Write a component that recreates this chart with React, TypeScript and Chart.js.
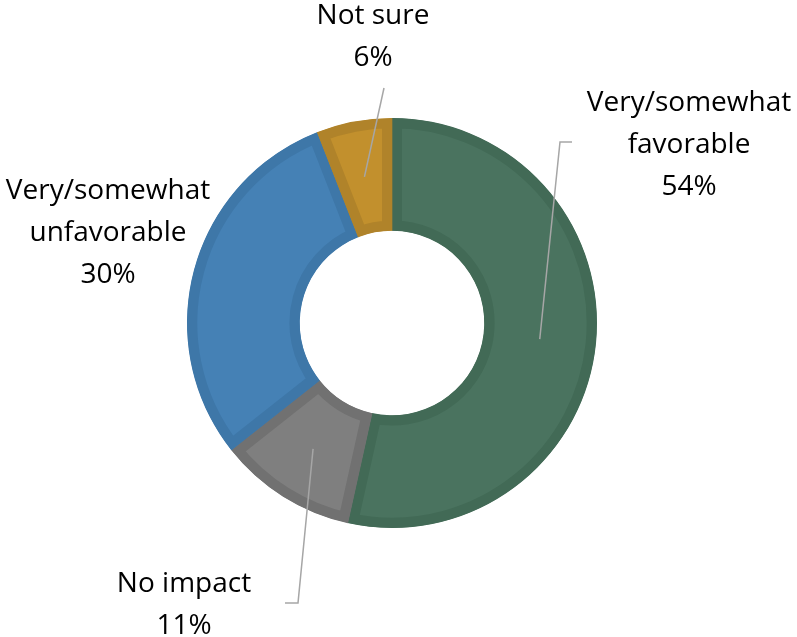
import React, { useEffect, useRef } from "react";
import { Chart, registerables } from "chart.js";

Chart.register(...registerables);

const categories = ["Very/somewhat favorable", "No impact", "Very/somewhat unfavorable", "Not sure"];
const values = [54, 11, 30, 6];
const labelLines = [
  ["Very/somewhat", "favorable", "54%"],
  ["No impact", "11%"],
  ["Very/somewhat", "unfavorable", "30%"],
  ["Not sure", "6%"],
];
const fillColors = ["#4a735f", "#7f7f7f", "#4581b5", "#c2902d"];
const borderColors = ["#426a56", "#717171", "#3e77a8", "#b0832a"];

// label placement relative to chart centre (text centre x, first line centre y), elbow points
const labelPlacement = [
  { tx: 297, ty: -220, elbow: [168, -181], end: [180, -181] },
  { tx: -208, ty: 261, elbow: [-94, 280], end: [-107, 280] },
  { tx: -284, ty: -132, elbow: null, end: null },
  { tx: -19, ty: -307, elbow: null, end: [-8, -235] },
];

const labelPlugin = {
  id: "doughnutLabels",
  afterDatasetsDraw(chart: any) {
    const ctx = chart.ctx;
    const meta = chart.getDatasetMeta(0);
    ctx.save();
    meta.data.forEach((arc: any, i: number) => {
      const p = arc.getProps(["x", "y", "startAngle", "endAngle", "innerRadius", "outerRadius"], true);
      const mid = (p.startAngle + p.endAngle) / 2;
      const r = (p.innerRadius + p.outerRadius) / 2;
      const sx = p.x + Math.cos(mid) * r;
      const sy = p.y + Math.sin(mid) * r;
      const pl = labelPlacement[i];
      if (pl.end) {
        ctx.beginPath();
        ctx.strokeStyle = "#a6a6a6";
        ctx.lineWidth = 1.5;
        ctx.moveTo(sx, sy);
        if (pl.elbow) ctx.lineTo(p.x + pl.elbow[0], p.y + pl.elbow[1]);
        ctx.lineTo(p.x + pl.end[0], p.y + pl.end[1]);
        ctx.stroke();
      }
      ctx.fillStyle = "#000000";
      ctx.font = "28px 'Open Sans'";
      ctx.textAlign = "center";
      ctx.textBaseline = "middle";
      labelLines[i].forEach((t, j) => {
        ctx.fillText(t, p.x + pl.tx, p.y + pl.ty + j * 42);
      });
    });
    ctx.restore();
  },
};

export default function App() {
  const ref = useRef<HTMLCanvasElement>(null);
  useEffect(() => {
    const chart = new Chart(ref.current!, {
      type: "doughnut",
      data: {
        labels: categories,
        datasets: [
          {
            data: values,
            backgroundColor: fillColors,
            borderColor: borderColors,
            borderWidth: 10,
            borderAlign: "inner",
            hoverOffset: 0,
          } as any,
        ],
      },
      options: {
        responsive: false,
        animation: false,
        cutout: "45%",
        layout: { padding: { top: 118, bottom: 109, left: 187, right: 200 } },
        plugins: { legend: { display: false }, tooltip: { enabled: false } },
      },
      plugins: [labelPlugin],
    });
    return () => chart.destroy();
  }, []);
  return (
    <div style={{ position: "absolute", left: 0, top: 0, width: 797, height: 637, background: "#fff" }}>
      <canvas ref={ref} width={797} height={637} />
    </div>
  );
}
